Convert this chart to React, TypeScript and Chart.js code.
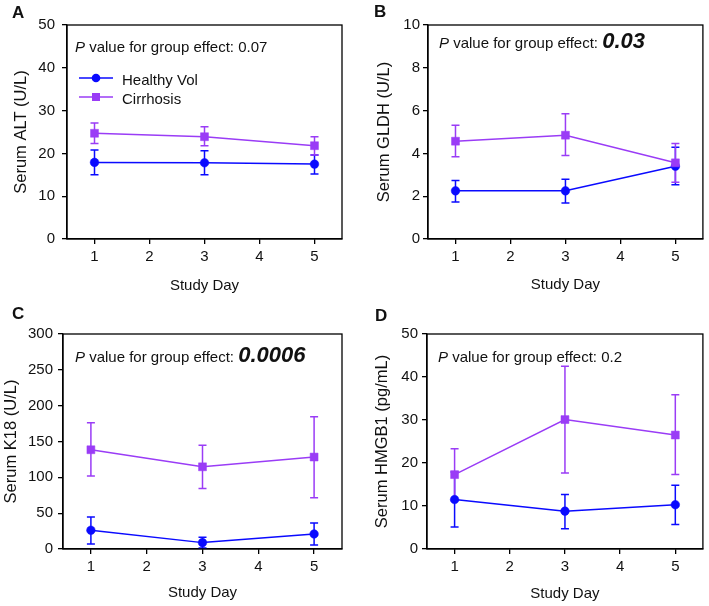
import React, { useEffect, useRef } from 'react';
import { Chart, registerables } from 'chart.js';

Chart.register(...registerables);

// ---------- data ----------
const days = [1, 3, 5];
const xTickValues = [1, 2, 3, 4, 5];
const seriesNames = ['Healthy Vol', 'Cirrhosis'];
const xTitle = 'Study Day';

// A: ALT
const altHealthy = [17.9, 17.8, 17.5];
const altHealthyLow = [15.0, 15.0, 15.2];
const altHealthyHigh = [20.8, 20.6, 19.6];
const altCirr = [24.7, 23.9, 21.8];
const altCirrLow = [22.3, 21.8, 19.6];
const altCirrHigh = [27.1, 26.2, 23.9];

// B: GLDH
const gldhHealthy = [2.25, 2.25, 3.4];
const gldhHealthyLow = [1.73, 1.68, 2.54];
const gldhHealthyHigh = [2.73, 2.79, 4.29];
const gldhCirr = [4.57, 4.85, 3.56];
const gldhCirrLow = [3.84, 3.9, 2.65];
const gldhCirrHigh = [5.32, 5.85, 4.46];

// C: K18
const k18Healthy = [26.1, 8.9, 21.0];
const k18HealthyLow = [7.0, 1.5, 5.6];
const k18HealthyHigh = [44.8, 16.3, 36.4];
const k18Cirr = [138.5, 114.7, 128.3];
const k18CirrLow = [101.7, 84.4, 71.4];
const k18CirrHigh = [176.3, 144.6, 184.7];

// D: HMGB1
const hmgbHealthy = [11.5, 8.8, 10.3];
const hmgbHealthyLow = [5.1, 4.7, 5.7];
const hmgbHealthyHigh = [17.9, 12.7, 14.8];
const hmgbCirr = [17.3, 30.1, 26.5];
const hmgbCirrLow = [11.3, 17.7, 17.3];
const hmgbCirrHigh = [23.3, 42.5, 35.9];

// ---------- styling ----------
const BLUE = '#0a0aff';
const PURPLE = '#9a3cf6';
const TEXT = '#111111';
const FONT = '"Liberation Sans", Arial, Helvetica, sans-serif';

type Panel = {
  letter: string;
  yTitle: string;
  yMax: number;
  yStep: number;
  healthy: number[];
  healthyLow: number[];
  healthyHigh: number[];
  cirr: number[];
  cirrLow: number[];
  cirrHigh: number[];
  pValue: string;
  pBold: boolean;
  legend: boolean;
  pos: { left: number; top: number; width: number; height: number };
  area: { l: number; r: number; t: number; b: number };
  yTitleX: number;
  xTitleY: number;
  letterPos: { x: number; y: number };
  pOff: { x: number; y: number };
  yTickPad: number;
};

const panels: Panel[] = [
  {
    letter: 'A', yTitle: 'Serum ALT (U/L)', yMax: 50, yStep: 10,
    healthy: altHealthy, healthyLow: altHealthyLow, healthyHigh: altHealthyHigh,
    cirr: altCirr, cirrLow: altCirrLow, cirrHigh: altCirrHigh,
    pValue: '0.07', pBold: false, legend: true,
    pos: { left: 0, top: 0, width: 354, height: 300 },
    area: { l: 67, r: 342, t: 25, b: 239 },
    yTitleX: 21, xTitleY: 286, letterPos: { x: 12, y: 18 }, pOff: { x: 8, y: 27 }, yTickPad: 7,
  },
  {
    letter: 'B', yTitle: 'Serum GLDH (U/L)', yMax: 10, yStep: 2,
    healthy: gldhHealthy, healthyLow: gldhHealthyLow, healthyHigh: gldhHealthyHigh,
    cirr: gldhCirr, cirrLow: gldhCirrLow, cirrHigh: gldhCirrHigh,
    pValue: '0.03', pBold: true, legend: false,
    pos: { left: 355, top: 0, width: 354, height: 300 },
    area: { l: 73, r: 350, t: 25, b: 239 },
    yTitleX: 29, xTitleY: 285, letterPos: { x: 19, y: 17 }, pOff: { x: 11, y: 23 }, yTickPad: 3,
  },
  {
    letter: 'C', yTitle: 'Serum K18 (U/L)', yMax: 300, yStep: 50,
    healthy: k18Healthy, healthyLow: k18HealthyLow, healthyHigh: k18HealthyHigh,
    cirr: k18Cirr, cirrLow: k18CirrLow, cirrHigh: k18CirrHigh,
    pValue: '0.0006', pBold: true, legend: false,
    pos: { left: 0, top: 300, width: 354, height: 306 },
    area: { l: 63, r: 342, t: 34, b: 249 },
    yTitleX: 11, xTitleY: 293, letterPos: { x: 12, y: 19 }, pOff: { x: 12, y: 28 }, yTickPad: 5,
  },
  {
    letter: 'D', yTitle: 'Serum HMGB1 (pg/mL)', yMax: 50, yStep: 10,
    healthy: hmgbHealthy, healthyLow: hmgbHealthyLow, healthyHigh: hmgbHealthyHigh,
    cirr: hmgbCirr, cirrLow: hmgbCirrLow, cirrHigh: hmgbCirrHigh,
    pValue: '0.2', pBold: false, legend: false,
    pos: { left: 355, top: 300, width: 354, height: 306 },
    area: { l: 72, r: 350, t: 34, b: 249 },
    yTitleX: 27, xTitleY: 294, letterPos: { x: 20, y: 21 }, pOff: { x: 11, y: 28 }, yTickPad: 4,
  },
];

function PanelChart({ p }: { p: Panel }) {
  const ref = useRef<HTMLCanvasElement | null>(null);

  useEffect(() => {
    const canvas = ref.current;
    if (!canvas) return;
    const { width, height } = p.pos;
    const a = p.area;

    const errSets = [
      { low: p.healthyLow, high: p.healthyHigh, color: BLUE },
      { low: p.cirrLow, high: p.cirrHigh, color: PURPLE },
    ];

    const decor = {
      id: 'decor',
      beforeDatasetsDraw(chart: any) {
        const ctx = chart.ctx;
        const xs = chart.scales.x;
        const ys = chart.scales.y;
        ctx.save();
        ctx.lineWidth = 1.5;
        errSets.forEach((s) => {
          ctx.strokeStyle = s.color;
          days.forEach((d, i) => {
            const x = xs.getPixelForValue(d);
            const y1 = ys.getPixelForValue(s.low[i]);
            const y2 = ys.getPixelForValue(s.high[i]);
            ctx.beginPath();
            ctx.moveTo(x, y1);
            ctx.lineTo(x, y2);
            ctx.moveTo(x - 4, y1);
            ctx.lineTo(x + 4, y1);
            ctx.moveTo(x - 4, y2);
            ctx.lineTo(x + 4, y2);
            ctx.stroke();
          });
        });
        ctx.restore();
      },
      afterDraw(chart: any) {
        const ctx = chart.ctx;
        const ca = chart.chartArea;
        ctx.save();
        // frame
        ctx.strokeStyle = '#000';
        ctx.lineWidth = 1.3;
        ctx.strokeRect(ca.left, ca.top, ca.right - ca.left, ca.bottom - ca.top);

        ctx.fillStyle = TEXT;
        // panel letter
        ctx.font = `bold 17px ${FONT}`;
        ctx.textAlign = 'left';
        ctx.textBaseline = 'alphabetic';
        ctx.fillText(p.letter, p.letterPos.x, p.letterPos.y);

        // y title
        ctx.save();
        ctx.translate(p.yTitleX, (ca.top + ca.bottom) / 2);
        ctx.rotate(-Math.PI / 2);
        ctx.font = `16.5px ${FONT}`;
        ctx.textAlign = 'center';
        ctx.textBaseline = 'middle';
        ctx.fillText(p.yTitle, 0, 0);
        ctx.restore();

        // x title
        ctx.font = `15px ${FONT}`;
        ctx.textAlign = 'center';
        ctx.textBaseline = 'middle';
        ctx.fillText(xTitle, (ca.left + ca.right) / 2, p.xTitleY);

        // P value annotation
        ctx.textAlign = 'left';
        ctx.textBaseline = 'alphabetic';
        let x = ca.left + p.pOff.x;
        const y = ca.top + p.pOff.y;
        ctx.font = `italic 15px ${FONT}`;
        ctx.fillText('P', x, y);
        x += ctx.measureText('P').width;
        ctx.font = `15px ${FONT}`;
        const mid = ' value for group effect: ';
        ctx.fillText(mid, x, y);
        x += ctx.measureText(mid).width;
        ctx.font = p.pBold ? `italic bold 22px ${FONT}` : `15px ${FONT}`;
        ctx.fillText(p.pValue, x, y);

        // legend
        if (p.legend) {
          const rows = [
            { name: seriesNames[0], color: BLUE, y: 78, style: 'circle' },
            { name: seriesNames[1], color: PURPLE, y: 97, style: 'rect' },
          ];
          rows.forEach((r) => {
            ctx.strokeStyle = r.color;
            ctx.fillStyle = r.color;
            ctx.lineWidth = 1.5;
            ctx.beginPath();
            ctx.moveTo(79, r.y);
            ctx.lineTo(113, r.y);
            ctx.stroke();
            if (r.style === 'circle') {
              ctx.beginPath();
              ctx.arc(96, r.y, 4.3, 0, Math.PI * 2);
              ctx.fill();
            } else {
              ctx.fillRect(96 - 4, r.y - 4, 8, 8);
            }
            ctx.fillStyle = TEXT;
            ctx.font = `15px ${FONT}`;
            ctx.fillText(r.name, 122, r.y + 7);
          });
        }
        ctx.restore();
      },
    };

    const chart = new Chart(canvas, {
      type: 'line',
      data: {
        datasets: [
          {
            label: seriesNames[0],
            data: days.map((d, i) => ({ x: d, y: p.healthy[i] })),
            borderColor: BLUE,
            backgroundColor: BLUE,
            pointBackgroundColor: BLUE,
            pointBorderColor: BLUE,
            pointStyle: 'circle',
            pointRadius: 4.3,
            pointBorderWidth: 0.5,
            borderWidth: 1.5,
            order: 2,
          },
          {
            label: seriesNames[1],
            data: days.map((d, i) => ({ x: d, y: p.cirr[i] })),
            borderColor: PURPLE,
            backgroundColor: PURPLE,
            pointBackgroundColor: PURPLE,
            pointBorderColor: PURPLE,
            pointStyle: 'rect',
            pointRadius: 5.6,
            pointBorderWidth: 0.5,
            borderWidth: 1.5,
            order: 1,
          },
        ],
      },
      options: {
        animation: false,
        responsive: false,
        events: [],
        layout: { padding: { left: 0, top: a.t, right: width - a.r, bottom: 0 } },
        plugins: { legend: { display: false }, tooltip: { enabled: false }, title: { display: false } },
        scales: {
          x: {
            type: 'linear',
            min: 0.5,
            max: 5.5,
            ticks: {
              stepSize: 1,
              color: TEXT,
              font: { family: FONT, size: 15 },
              padding: 4,
              maxRotation: 0,
              autoSkip: false,
              callback: (v: any) => String(v),
            },
            afterBuildTicks: (s: any) => {
              s.ticks = xTickValues.map((v) => ({ value: v }));
            },
            grid: { drawOnChartArea: false, drawTicks: true, tickLength: 5, color: '#000', lineWidth: 1.3 },
            border: { display: true, color: '#000', width: 1.3 },
            afterFit: (s: any) => {
              s.height = height - a.b;
            },
          },
          y: {
            type: 'linear',
            min: 0,
            max: p.yMax,
            ticks: {
              stepSize: p.yStep,
              color: TEXT,
              font: { family: FONT, size: 15 },
              padding: p.yTickPad,
              callback: (v: any) => String(v),
            },
            grid: { drawOnChartArea: false, drawTicks: true, tickLength: 5, color: '#000', lineWidth: 1.3 },
            border: { display: true, color: '#000', width: 1.3 },
            afterFit: (s: any) => {
              s.width = a.l;
            },
          },
        },
      } as any,
      plugins: [decor],
    });

    return () => chart.destroy();
  }, [p]);

  return (
    <canvas
      ref={ref}
      width={p.pos.width}
      height={p.pos.height}
      style={{
        position: 'absolute',
        left: p.pos.left,
        top: p.pos.top,
        width: p.pos.width,
        height: p.pos.height,
        display: 'block',
      }}
    />
  );
}

export default function App() {
  return (
    <div style={{ position: 'absolute', left: 0, top: 0, width: 709, height: 606, background: '#fff' }}>
      {panels.map((p) => (
        <PanelChart key={p.letter} p={p} />
      ))}
    </div>
  );
}
